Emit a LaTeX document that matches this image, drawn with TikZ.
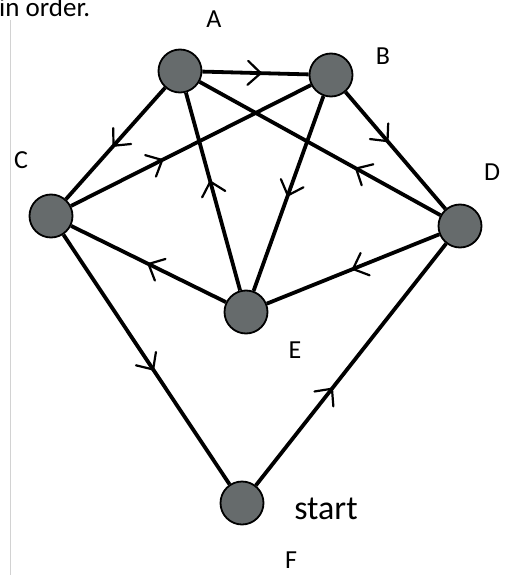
\documentclass[tikz,border=0pt]{standalone}
\usepackage{fontspec}
\setmainfont{Carlito}
\usetikzlibrary{decorations.markings}
\definecolor{nodegray}{RGB}{102,107,108}
\begin{document}
\begin{tikzpicture}[x=1pt,y=-1pt,
  vertex/.style={circle,draw=black,line width=1.8pt,fill=nodegray,minimum size=43pt,inner sep=0pt},
  edge/.style={line width=3.8pt},
  lbl/.style={font=\fontsize{26}{28}\selectfont},
  mid/.style={postaction={decorate},decoration={markings,mark=at position #1 with {\draw[line width=2.2pt,line cap=round,line join=round] (-13pt,-12pt) -- (0pt,0pt) -- (-13pt,12pt);}}}
]
\useasboundingbox (0,0) rectangle (511,575);
\draw[gray!35,line width=1pt] (10,20) -- (10,575);
\node[font=\fontsize{27}{29}\selectfont,anchor=base west,inner sep=0pt] (intro) at (-1,17) {in order.};

\node[vertex] (A) at (180,71) {};
\node[vertex] (B) at (331,75) {};
\node[vertex] (C) at (51,216) {};
\node[vertex] (D) at (460,226) {};
\node[vertex] (E) at (246,312) {};
\node[vertex] (F) at (242,503) {};

\draw[edge,mid=0.55] (A) -- (B);
\draw[edge,mid=0.52] (A) -- (C);
\draw[edge,mid=0.38] (C) -- (B);
\draw[edge,mid=0.55] (E) -- (A);
\draw[edge,mid=0.5] (E) -- (C);
\draw[edge,mid=0.42] (B) -- (D);
\draw[edge,mid=0.35] (D) -- (A);
\draw[edge,mid=0.51] (B) -- (E);
\draw[edge,mid=0.5] (D) -- (E);
\draw[edge,mid=0.54] (C) -- (F);
\draw[edge,mid=0.4] (F) -- (D);

\node[lbl] (lA) at (214,19) {A};
\node[lbl] (lB) at (383,56) {B};
\node[lbl] (lC) at (21,160) {C};
\node[lbl] (lD) at (492,172) {D};
\node[lbl] (lE) at (295,350) {E};
\node[lbl] (lF) at (291,560) {F};
\node[font=\fontsize{34}{36}\selectfont] (start) at (326,509) {start};
\end{tikzpicture}
\end{document}
